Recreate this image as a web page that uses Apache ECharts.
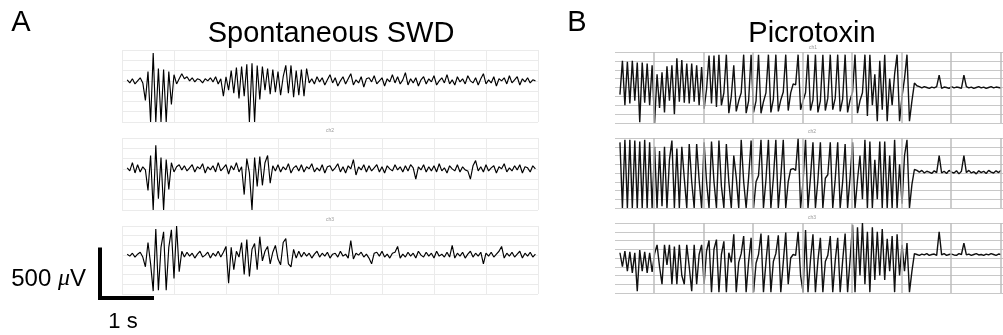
<!DOCTYPE html>
<html><head><meta charset="utf-8">
<script src="https://cdn.jsdelivr.net/npm/echarts@6/dist/echarts.min.js"></script>
<style>html,body{margin:0;padding:0;background:#fff}#c{width:1003px;height:335px}</style>
</head><body><div id="c"></div>
<script>
// ---------- DATA (µV, one sample every 0.05 s) ----------
const SAMPLE_DT = 0.05;
const T0 = 0.1;

// Panel A: Spontaneous SWD
const swdCh1 = [10,-20,20,-30,0,30,-20,
 -190,90,-400,270,-400,120,-400,110,-400,90,-230,60,-30,20,
 70,20,40,0,30,-10,20,10,-20,20,0,30,-10,40,-30,20,
 -150,40,-90,100,-120,130,-170,140,-150,160,-400,170,-400,150,-180,140,-90,120,-130,110,-110,90,-140,40,150,-120,150,-160,100,-140,110,-150,120,-20,
 20,-30,40,-10,30,-40,10,60,-20,30,
 -50,0,40,-30,20,70,-40,10,-20,40,
 -60,20,30,-10,50,-30,0,30,-50,20,
 -10,60,-20,40,-30,10,80,-40,20,-20,
 30,-50,10,40,-30,20,-10,50,-40,0,
 30,-20,60,-30,10,-40,40,-10,20,-30,
 50,0,-20,30,-40,20,70,-30,10,-20,
 40,-50,20,0,30,-30,50,-20,10,40,
 -40,20,-10,30,-20,10,0];
const swdCh2 = [10,-20,60,-40,40,-30,20,-10,
 -210,130,-400,230,-290,110,-400,90,-200,60,-30,20,
 40,-10,30,-20,10,40,-30,20,0,50,-40,20,-10,30,-30,60,-20,10,40,-50,30,-10,60,-30,20,
 -250,100,-40,-400,110,-170,120,-160,60,130,-140,30,-20,
 40,-30,20,-10,50,-40,10,30,-20,40,
 -30,20,0,50,-30,10,-20,40,-40,20,
 30,-20,10,50,-30,20,-40,30,0,90,
 -60,20,-10,40,-30,30,-20,10,40,-30,
 20,-40,30,0,-20,40,-10,20,-30,30,
 -20,40,10,-100,20,-10,40,-30,20,-20,
 30,-30,50,-20,10,-40,30,0,-20,40,
 -30,20,-10,-20,-100,30,80,-20,20,-30,
 40,-20,10,30,-40,20,0,50,-30,10,
 -20,30,-10,40,-40,20,10,-30,30,0];
const swdCh3 = [10,-10,20,-20,10,30,-20,
 -120,130,-90,-370,270,-360,80,240,-360,80,260,-240,300,-170,40,
 -20,30,-10,20,-30,10,40,-20,0,30,-30,20,-10,40,-20,30,
 90,-290,80,-150,40,-20,130,-200,160,-220,60,120,-150,190,-60,40,90,-90,30,100,-40,-100,130,170,-90,-120,60,-30,40,
 -20,30,-10,20,-30,10,40,-20,20,-10,
 30,-30,10,20,-20,40,-10,10,-30,150,
 -40,20,0,30,-20,10,-30,-90,20,30,
 -10,40,-20,10,-30,20,30,90,-30,10,
 -20,30,-10,20,-30,40,0,-20,30,-10,
 20,-30,40,-10,10,-20,30,-20,100,-30,
 20,-10,30,-30,10,40,-20,20,-10,30,
 -90,20,-10,30,-20,10,40,90,-30,20,
 -10,30,-20,10,40,-30,20,-10,30,-20,10];

// Panel B: Picrotoxin
const ptxCh1 = [-80,300,-200,290,-180,300,-150,280,-390,280,-170,270,-200,250,-400,
 150,-230,170,-280,240,-150,250,-300,330,-160,310,-170,270,-180,270,-160,250,-200,230,-240,-20,
 360,-180,360,-220,370,-200,-60,370,-290,-100,250,-270,-150,-60,
 370,-290,-150,370,-280,-150,370,-290,-160,-60,370,-280,-130,370,-270,-140,-50,370,-260,-60,40,30,
 370,-250,-150,-60,370,-260,-140,370,-280,-150,370,-260,-120,370,-250,-120,370,-270,-130,370,
 -280,-140,-50,370,-290,-150,-60,370,-320,370,-200,150,-380,300,-250,370,-380,100,-200,150,
 370,-380,-100,100,370,-380,-150,50,
 20,10,-5,10,0,-10,5,-5,10,140,-10,5,0,-10,10,-5,5,0,-10,140,10,-5,5,-10,0,10,-5,5,-10,0,10,-5,5,0,-5];
const ptxCh2 = [350,-400,380,-400,380,-400,370,-400,360,-400,380,-400,350,-400,300,
 -400,250,-380,300,-400,150,370,-400,280,-400,300,-60,-400,330,-100,-400,330,-80,-400,350,
 -100,-400,360,-100,-400,370,-150,-400,330,-100,-400,200,-50,-400,380,-100,-400,-50,370,-400,
 -100,-30,380,-400,-80,380,-400,-60,380,-400,-50,380,-400,-100,40,50,30,
 390,-400,-100,380,-400,-50,350,-400,-80,350,-400,-60,-20,350,-400,-70,350,-400,-100,330,
 -400,-50,350,-400,-80,200,-300,380,-400,360,-400,150,-300,360,-400,360,-400,200,-400,380,
 -400,100,-350,200,380,-400,-130,40,30,
 10,30,0,20,10,-5,25,5,200,0,20,-5,30,10,0,25,-10,20,200,5,30,0,15,-10,25,5,20,-5,30,10,0,25,5,30];
const ptxCh3 = [60,-100,80,-150,70,-170,60,-380,90,-150,70,-170,60,-160,50,
 150,-100,-300,150,-80,150,-300,130,-300,150,-200,-300,150,-100,-380,150,-300,40,150,-300,80,
 200,-390,100,210,-390,40,190,-390,60,-50,270,-390,-50,50,250,-390,-40,230,-390,-60,40,280,-390,-50,
 260,-390,-40,50,260,-390,-50,290,-300,0,40,30,
 300,-200,-390,320,-390,-20,270,-390,-30,230,-390,-40,30,250,-390,-30,230,-390,-30,280,
 -390,-20,380,-390,350,-200,400,-300,300,-390,350,-250,300,-200,330,-250,220,-150,250,-390,
 270,-200,150,-150,170,-390,-150,50,40,
 30,45,35,50,30,40,45,30,300,35,50,30,40,45,35,30,50,40,170,35,45,30,40,50,35,40,30,45,35,50,40,30,45,40];

// vertical grid times of panel B (s)
const ptxTicks = [0.79,1.79,2.79,3.79,4.79,5.79,6.79,7.79];
const channelLabels = ['ch1','ch2','ch3'];
const SCALE_UV = 500, SCALE_S = 1;

// ---------- CHART ----------
const FONT = 'Liberation Sans, Arial, Helvetica, sans-serif';
const toPairs = arr => arr.map((v, i) => [T0 + i * SAMPLE_DT, v]);

const gridA = [{top:50,height:72},{top:138,height:72},{top:226,height:68}];
const gridB = [{top:52,height:71},{top:138,height:70},{top:223,height:70}];
const grids = [], xAxes = [], yAxes = [], series = [];
const hide = {axisLine:{show:false}, axisTick:{show:false}, axisLabel:{show:false}};

[swdCh1, swdCh2, swdCh3].forEach((d, k) => {
  const gi = grids.length;
  grids.push({left:122, width:416, top:gridA[k].top, height:gridA[k].height});
  xAxes.push(Object.assign({type:'value', gridIndex:gi, min:0, max:8, interval:1,
    splitLine:{show:true, lineStyle:{color:'#ebebeb', width:1}}}, hide));
  yAxes.push(Object.assign({type:'value', gridIndex:gi, min:-400, max:300, interval:100,
    splitLine:{show:true, lineStyle:{color:'#ebebeb', width:1}}}, hide));
  series.push({type:'line', xAxisIndex:gi, yAxisIndex:gi, data:toPairs(d), showSymbol:false,
    lineStyle:{color:'#000', width:1.15}, z:3, animation:false, silent:true});
});
[ptxCh1, ptxCh2, ptxCh3].forEach((d, k) => {
  const gi = grids.length;
  grids.push({left:615, width:388, top:gridB[k].top, height:gridB[k].height});
  xAxes.push(Object.assign({type:'value', gridIndex:gi, min:0, max:7.84,
    splitLine:{show:false}}, hide));
  yAxes.push(Object.assign({type:'value', gridIndex:gi, min:-400, max:400, interval:100,
    splitLine:{show:true, lineStyle:{color:'#c8c8c8', width:1}}}, hide));
  series.push({type:'line', xAxisIndex:gi, yAxisIndex:gi, data:[], z:1, animation:false, silent:true,
    markLine:{silent:true, symbol:['none','none'], label:{show:false}, animation:false,
      lineStyle:{color:'#bdbdbd', width:1.5, type:'solid'},
      data: ptxTicks.map(t => ({xAxis:t}))}});
  series.push({type:'line', xAxisIndex:gi, yAxisIndex:gi, data:toPairs(d), showSymbol:false,
    lineStyle:{color:'#111', width:1.4}, z:3, animation:false, silent:true});
});

const txt = (x, y, text, size, extra) => ({type:'text', x, y, silent:true,
  style:Object.assign({text, fontSize:size, fontFamily:FONT, fill:'#000', align:'center', verticalAlign:'middle'}, extra||{})});
const graphic = [
  txt(21, 23, 'A', 29),
  txt(577, 23, 'B', 29),
  txt(331, 34, 'Spontaneous SWD', 29),
  txt(812, 34, 'Picrotoxin', 29),
  txt(123, 322, SCALE_S + ' s', 22),
  {type:'text', x:86, y:279, silent:true, style:{text:'{n|' + SCALE_UV + ' }{m|μ}{n|V}', align:'right', verticalAlign:'middle',
    rich:{n:{fontSize:24, fontFamily:FONT, fill:'#000'}, m:{fontSize:24, fontFamily:'Liberation Serif, DejaVu Serif, serif', fontStyle:'italic', fill:'#000'}}}},
  txt(330, 131, channelLabels[1], 5, {fill:'#999'}),
  txt(330, 220, channelLabels[2], 5, {fill:'#999'}),
  txt(813, 48, channelLabels[0], 5, {fill:'#999'}),
  txt(812, 132, channelLabels[1], 5, {fill:'#999'}),
  txt(812, 218, channelLabels[2], 5, {fill:'#999'})
];

const chart = echarts.init(document.getElementById('c'), null, {renderer:'canvas'});
chart.setOption({animation:false, backgroundColor:'#fff', grid:grids, xAxis:xAxes, yAxis:yAxes, series, graphic});

// scale bar: lengths taken from the axis scale of panel A, channel 3
const p00 = chart.convertToPixel({gridIndex:2}, [0, 0]);
const p10 = chart.convertToPixel({gridIndex:2}, [SCALE_S, 0]);
const p01 = chart.convertToPixel({gridIndex:2}, [0, SCALE_UV]);
const barW = Math.abs(p10[0] - p00[0]), barH = Math.abs(p00[1] - p01[1]);
const BAR_X = 100, BAR_Y = 298;
chart.setOption({graphic: graphic.concat([{type:'polyline', silent:true,
  shape:{points:[[BAR_X, BAR_Y - barH],[BAR_X, BAR_Y],[BAR_X + barW, BAR_Y]]},
  style:{stroke:'#000', lineWidth:4, lineCap:'square', lineJoin:'miter', fill:null}}])});
</script></body></html>
